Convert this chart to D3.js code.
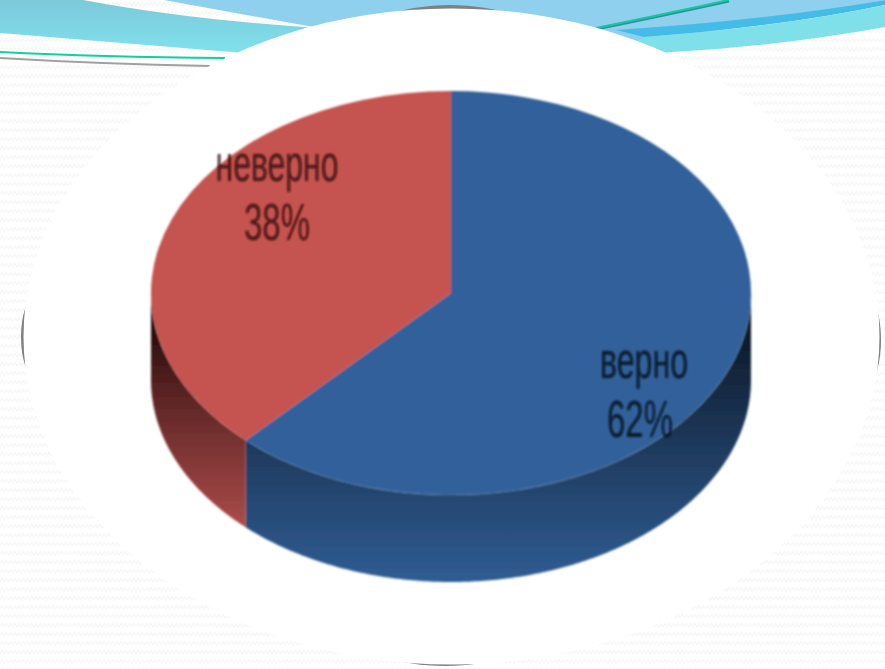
<!DOCTYPE html>
<html>
<head>
<meta charset="utf-8">
<script src="https://cdn.jsdelivr.net/npm/d3@7"></script>
<style>
  html, body { margin: 0; padding: 0; background: #fff; overflow: hidden; }
  svg { display: block; }
  text { font-family: "Liberation Sans Narrow", "Liberation Sans", sans-serif; text-anchor: middle; }
</style>
</head>
<body>
<script>
var categories = ["верно", "неверно"];
var percents = [62, 38];
var topColors = ["#31619a", "#c5524f"];

var width = 885, height = 669;
var cx = 451, cy = 293, rx = 300, ry = 202, depth = 87;

var svg = d3.select("body").append("svg")
    .attr("width", width)
    .attr("height", height);
var defs = svg.append("defs");

// zigzag page texture
var pat = defs.append("pattern")
    .attr("id", "zigzag")
    .attr("width", 8.5).attr("height", 9)
    .attr("patternUnits", "userSpaceOnUse");
pat.append("path")
    .attr("d", "M0 6L2.1 2.5L4.25 6L6.4 2.5L8.5 6")
    .attr("fill", "none")
    .attr("stroke", "#f6f6f6")
    .attr("stroke-width", 1.2);

var blur = defs.append("filter").attr("id", "soft");
blur.append("feGaussianBlur").attr("stdDeviation", 1);
var blurText = defs.append("filter").attr("id", "softText");
blurText.append("feGaussianBlur").attr("stdDeviation", 0.8);

function vgrad(id, y1, y2, stops) {
    var g = defs.append("linearGradient")
        .attr("id", id)
        .attr("gradientUnits", "userSpaceOnUse")
        .attr("x1", 0).attr("x2", 0).attr("y1", y1).attr("y2", y2);
    stops.forEach(function(s) {
        g.append("stop").attr("offset", s[0]).attr("stop-color", s[1]);
    });
}
vgrad("wall0", 315, 582, [[0, "#0a1622"], [0.5, "#1f3a5e"], [1, "#2f5d93"]]);
vgrad("wall1", 315, 527, [[0, "#1f0707"], [0.4, "#5f2626"], [1, "#ab4b49"]]);
vgrad("teal", 0, 55, [[0, "#7cc9da"], [1, "#7fe2ec"]]);

// background and header swooshes
svg.append("rect").attr("width", width).attr("height", height).attr("fill", "#fff");
svg.append("rect").attr("width", width).attr("height", height).attr("fill", "url(#zigzag)");

svg.append("path").attr("d", "M0 0L83 0Q190 20 320 28L320 60L232 52Q110 42 0 33Z").attr("fill", "url(#teal)");
svg.append("path").attr("d", "M164 0L885 0L640 45L330 30Z").attr("fill", "#8fd0ef");
svg.append("path").attr("d", "M616 30Q770 20 885 0L885 5Q780 27 644 37Z").attr("fill", "#45bce8");
svg.append("path").attr("d", "M644 37Q780 27 885 5L885 27Q780 46 672 52L600 60Z").attr("fill", "#7fe0ea");

svg.append("path")
    .attr("d", "M596 28Q665 14 729 0")
    .attr("fill", "none").attr("stroke", "#2f8f9a").attr("stroke-width", 2)
    .attr("transform", "translate(0,1.5)");
svg.append("path")
    .attr("d", "M596 28Q665 14 729 0")
    .attr("fill", "none").attr("stroke", "#12c8a0").attr("stroke-width", 2);
svg.append("path")
    .attr("d", "M0 52Q100 57 225 58")
    .attr("fill", "none").attr("stroke", "#10d0a0").attr("stroke-width", 2);
svg.append("path")
    .attr("d", "M0 58Q100 64 210 66")
    .attr("fill", "none").attr("stroke", "#a0a0a0").attr("stroke-width", 2);

// gray frame only peeks out at the four extremes of the white oval
var frameBits = [[450, 42, 90, 37], [445, 630, 90, 36], [35, 337, 14, 40], [868, 340, 13, 42]];
svg.selectAll("ellipse.frame")
    .data(frameBits)
    .enter().append("ellipse")
    .attr("class", "frame")
    .attr("cx", function(d) { return d[0]; })
    .attr("cy", function(d) { return d[1]; })
    .attr("rx", function(d) { return d[2]; })
    .attr("ry", function(d) { return d[3]; })
    .attr("fill", "#808080");
svg.append("ellipse")
    .attr("cx", 451.5).attr("cy", 336.5).attr("rx", 428).attr("ry", 328)
    .attr("fill", "#fff");

// pie
var pie = d3.pie().sort(null);
var slices = pie(percents);
var arc = d3.arc().innerRadius(0).outerRadius(rx);
var chart = svg.append("g").attr("filter", "url(#soft)");

function rimPoint(a, drop) {
    return [cx + rx * Math.sin(a), cy - ry * Math.cos(a) + drop];
}
function rimRange(a0, a1) {
    return d3.range(a0, a1, 0.01).concat([a1]);
}
// only the part of the wall facing the viewer, between 3 and 9 o'clock
function wallPath(d) {
    var a0 = Math.max(d.startAngle, Math.PI / 2);
    var a1 = Math.min(d.endAngle, 3 * Math.PI / 2);
    var angles = rimRange(a0, a1);
    var pts = angles.map(function(a) { return rimPoint(a, 0); })
        .concat(angles.slice().reverse().map(function(a) { return rimPoint(a, depth); }));
    return d3.line()(pts) + "Z";
}

chart.selectAll("path.wall")
    .data(slices)
    .enter().append("path")
    .attr("class", "wall")
    .attr("d", wallPath)
    .attr("fill", function(d, i) { return "url(#wall" + i + ")"; });

chart.selectAll("path.cap")
    .data(slices)
    .enter().append("path")
    .attr("class", "cap")
    .attr("transform", "translate(" + cx + "," + cy + ") scale(1," + (ry / rx) + ")")
    .attr("d", arc)
    .attr("fill", function(d, i) { return topColors[i]; });

// light rim along the front edge of the blue slice
chart.append("path")
    .attr("d", d3.line()(rimRange(Math.PI / 2, slices[0].endAngle).map(function(a) { return rimPoint(a, 0); })))
    .attr("fill", "none")
    .attr("stroke", "#5f83ad")
    .attr("stroke-opacity", 0.5)
    .attr("stroke-width", 1);

// labels, stretched tall like the scaled-up original
var labelX = [644, 277];
var labelY = [378, 181];
var valueY = [437, 240];
var nameW = [88, 123];
var valueW = [66, 66];
var labelColors = ["#060b14", "#2e0808"];

var labels = svg.append("g").attr("filter", "url(#softText)").attr("fill-opacity", 0.85);
categories.forEach(function(name, i) {
    labels.append("text")
        .attr("x", labelX[i]).attr("y", labelY[i])
        .attr("font-size", 52)
        .attr("textLength", nameW[i])
        .attr("lengthAdjust", "spacingAndGlyphs")
        .attr("fill", labelColors[i])
        .text(name);
    labels.append("text")
        .attr("x", labelX[i] - (i === 0 ? 4 : 0)).attr("y", valueY[i])
        .attr("font-size", 52)
        .attr("textLength", valueW[i])
        .attr("lengthAdjust", "spacingAndGlyphs")
        .attr("fill", labelColors[i])
        .text(percents[i] + "%");
});
</script>
</body>
</html>
